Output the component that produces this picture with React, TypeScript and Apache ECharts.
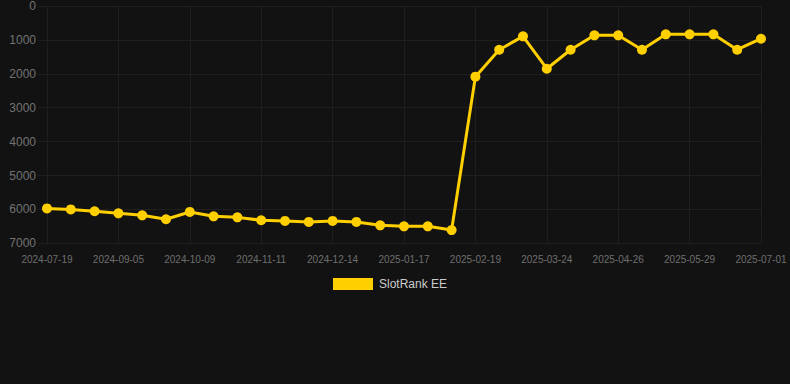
import React, { useEffect, useRef } from "react";
import * as echarts from "echarts";

const categories: string[] = [
  "2024-07-19", "2024-08-04", "2024-08-20", "2024-09-05", "2024-09-16", "2024-09-27",
  "2024-10-09", "2024-10-20", "2024-10-31", "2024-11-11", "2024-11-22", "2024-12-03",
  "2024-12-14", "2024-12-25", "2025-01-06", "2025-01-17", "2025-01-28", "2025-02-08",
  "2025-02-19", "2025-03-02", "2025-03-13", "2025-03-24", "2025-04-04", "2025-04-15",
  "2025-04-26", "2025-05-07", "2025-05-18", "2025-05-29", "2025-06-09", "2025-06-20",
  "2025-07-01",
];

const rankValues: number[] = [
  5970, 6000, 6055, 6115, 6175, 6290, 6075, 6205, 6235, 6320, 6340, 6370,
  6340, 6370, 6470, 6500, 6500, 6610, 2085, 1290, 895, 1850, 1290, 865,
  865, 1290, 835, 835, 835, 1290, 965,
];

const seriesName = "SlotRank EE";

export default function App() {
  const ref = useRef<HTMLDivElement>(null);

  useEffect(() => {
    document.body.style.margin = "0";
    document.body.style.background = "#121212";
    if (!ref.current) return;
    const chart = echarts.init(ref.current, null, { renderer: "svg" });
    const font = "'Liberation Sans', Arial, sans-serif";
    const gridColor = "#1f1f1f";
    chart.setOption({
      animation: false,
      backgroundColor: "#121212",
      textStyle: { fontFamily: font },
      grid: { left: 47, right: 29, top: 6, bottom: 140.7, containLabel: false },
      legend: {
        data: [seriesName],
        top: 278,
        left: 333,
        padding: 0,
        itemWidth: 40,
        itemHeight: 12,
        itemGap: 10,
        icon: "rect",
        textStyle: { color: "#cccccc", fontSize: 12, fontFamily: font, padding: [0, 0, 0, 1] },
      },
      xAxis: {
        type: "category",
        data: categories,
        boundaryGap: false,
        axisLine: { show: false },
        axisTick: { show: false },
        axisLabel: {
          interval: 2,
          color: "#6e6e6e",
          fontSize: 10,
          margin: 11,
          fontFamily: font,
        },
        splitLine: { show: true, interval: 2, lineStyle: { color: gridColor, width: 1 } },
      },
      yAxis: {
        type: "value",
        inverse: true,
        min: 0,
        max: 7000,
        interval: 1000,
        axisLine: { show: false },
        axisTick: { show: true, length: 9, lineStyle: { color: gridColor } },
        axisLabel: {
          color: "#727272",
          fontSize: 12,
          margin: 11,
          fontFamily: font,
          formatter: (v: number) => String(v),
        },
        splitLine: { show: true, lineStyle: { color: gridColor, width: 1 } },
      },
      series: [
        {
          name: seriesName,
          type: "line",
          data: rankValues,
          symbol: "circle",
          symbolSize: 10,
          itemStyle: { color: "#ffcf00" },
          lineStyle: { color: "#ffcf00", width: 3 },
        },
      ],
    });
    return () => chart.dispose();
  }, []);

  return <div ref={ref} style={{ width: 790, height: 384 }} />;
}
